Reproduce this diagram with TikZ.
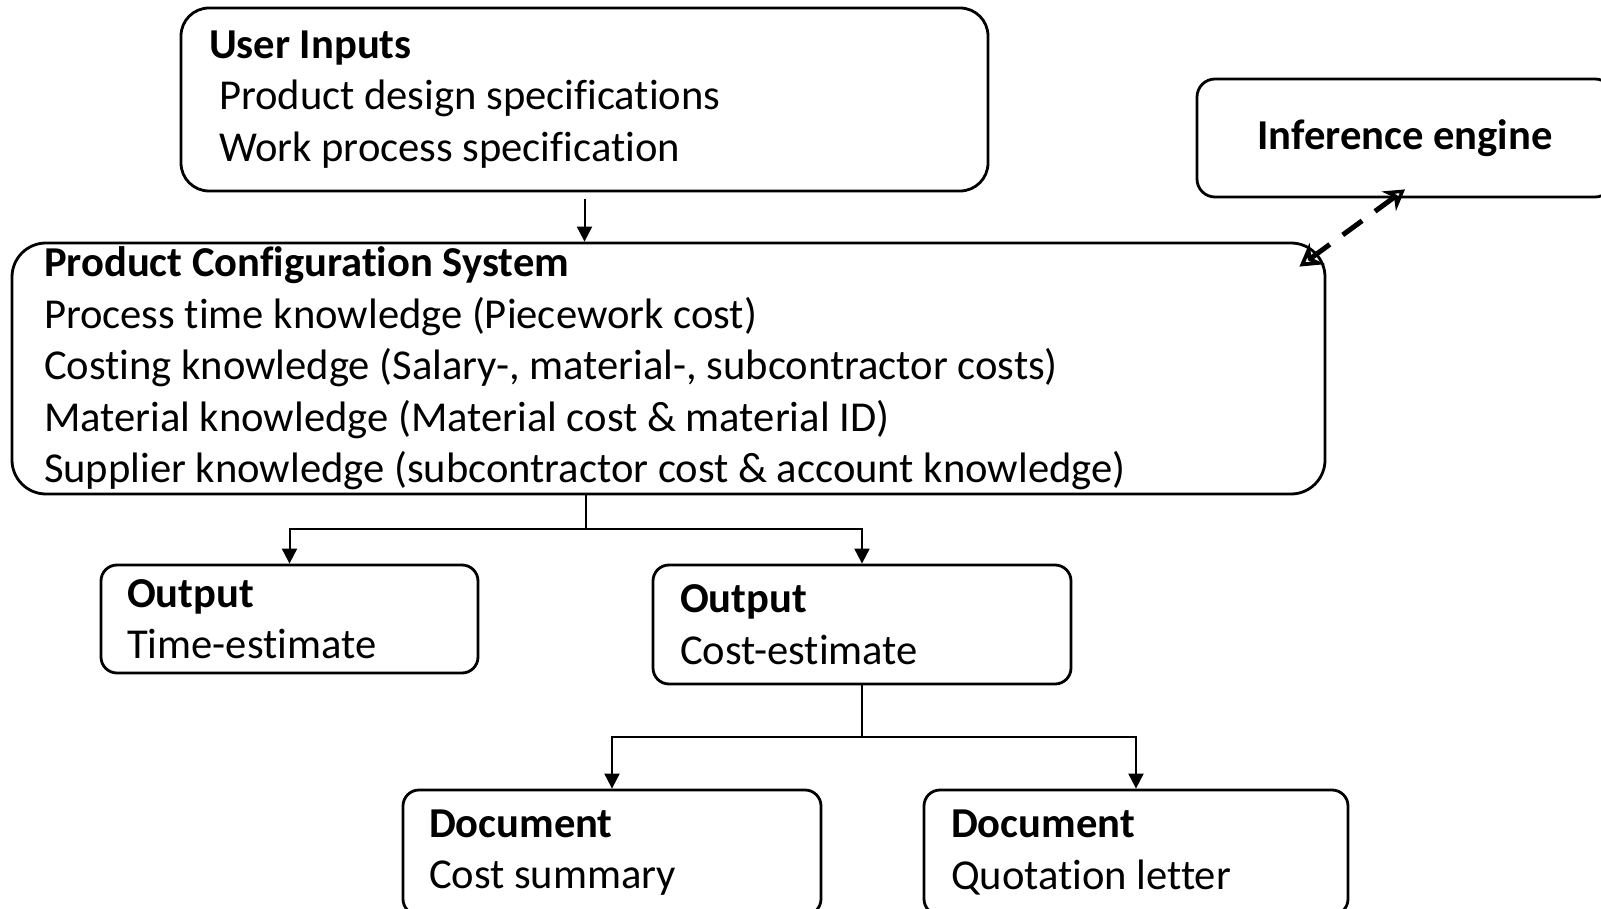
\documentclass[tikz,border=0pt]{standalone}
\usepackage{fontspec}
\setmainfont{Carlito}[Ligatures=NoCommon]
\usetikzlibrary{arrows.meta}
\begin{document}
\begin{tikzpicture}[x=0.5pt,y=-0.5pt]
  \tikzset{
    bx/.style={draw,line width=1.4pt,rounded corners=8pt,align=flush left,inner ysep=0pt,
      font=\fontsize{21.3pt}{25.8pt}\selectfont},
    arr/.style={line width=1pt,-{Triangle[length=7.5pt,width=7.5pt]}},
    darr/.style={line width=2.5pt,dash pattern=on 12pt off 8pt,
      {Stealth[open,length=11pt,width=13pt]}-{Stealth[open,length=10pt,width=12pt]}}
  }
  \useasboundingbox (0,0) rectangle (1601,909);
  \node[bx,rounded corners=14pt,inner xsep=14pt,text width=375.5pt,minimum height=91.5pt] (ui) at (584.5,99.5)
    {\textbf{User Inputs}\\\hspace*{5pt}Product design specifications\\\hspace*{5pt}Work process specification};
  \node[bx,rounded corners=9pt,align=center,minimum width=208pt,minimum height=59pt] (inf) at (1405,138)
    {\textbf{Inference engine}};
  \node[bx,rounded corners=17pt,inner xsep=16pt,text width=624.5pt,minimum height=125.5pt] (pcs) at (668.5,368.5)
    {\textbf{Product Configuration System}\\Process time knowledge (Piecework cost)\\Costing knowledge (Salary-, material-, subcontractor costs)\\Material knowledge (Material cost \& material ID)\\Supplier knowledge (subcontractor cost \& account knowledge)};
  \node[bx,inner xsep=13pt,text width=162.5pt,minimum height=54pt] (out1) at (289.5,619)
    {\textbf{Output}\\Time-estimate};
  \node[bx,inner xsep=13.5pt,text width=182pt,minimum height=59.5pt] (out2) at (862,624.5)
    {\textbf{Output}\\Cost-estimate};
  \node[bx,inner xsep=13pt,text width=183pt,minimum height=62.5pt] (doc1) at (612,852.5)
    {\textbf{Document}\\Cost summary};
  \node[bx,inner xsep=13.5pt,text width=185pt,minimum height=62.5pt] (doc2) at (1136,852.5)
    {\textbf{Document}\\Quotation letter};
  \coordinate (s1) at (586,529);
  \coordinate (s2) at (862,737);
  \draw[arr] ([yshift=-3.5pt]ui.south) -- (ui.south |- pcs.north);
  \draw[line width=1pt] (s1 |- pcs.south) -- (s1);
  \draw[arr] (s1) -| (out1.north);
  \draw[arr] (s1) -| (out2.north);
  \draw[line width=1pt] (out2.south) -- (s2);
  \draw[arr] (s2) -| (doc1.north);
  \draw[arr] (s2) -| (doc2.north);
  \draw[darr] ([xshift=-13.5pt,yshift=-12.5pt]pcs.north east) -- ([yshift=4.5pt]inf.south);
\end{tikzpicture}
\end{document}
